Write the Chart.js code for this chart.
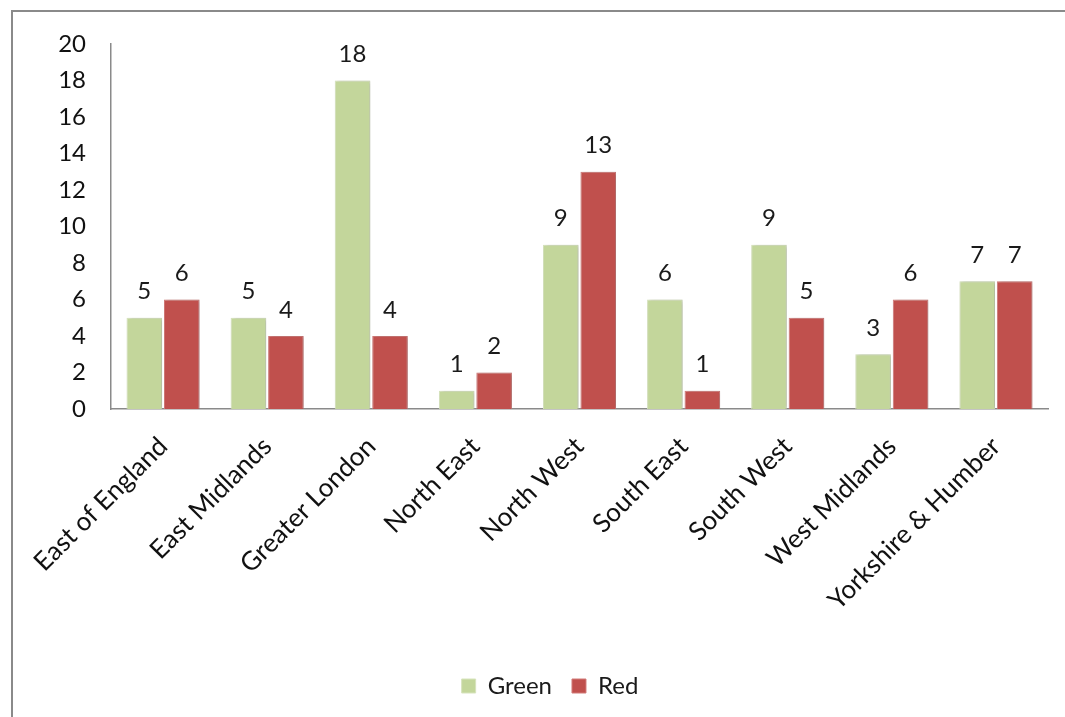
<!DOCTYPE html>
<html>
<head>
<meta charset="utf-8">
<script src="https://cdn.jsdelivr.net/npm/chart.js@4/dist/chart.umd.min.js"></script>
<style>
  html, body { margin: 0; padding: 0; background: #ffffff; }
  #wrap { width: 1065px; height: 717px; position: relative; }
</style>
</head>
<body>
<div id="wrap"><canvas id="chart" width="1065" height="717"></canvas></div>
<script>
// Regions and counts per series
const regions = ['East of England', 'East Midlands', 'Greater London', 'North East', 'North West',
                 'South East', 'South West', 'West Midlands', 'Yorkshire & Humber'];
const greenValues = [5, 5, 18, 1, 9, 6, 9, 3, 7];
const redValues = [6, 4, 4, 2, 13, 1, 5, 6, 7];
const seriesNames = ['Green', 'Red'];
const yTicks = [0, 2, 4, 6, 8, 10, 12, 14, 16, 18, 20];

const FONT = 'Lato, "Open Sans", sans-serif';

// Outer frame around the whole chart
const framePlugin = {
  id: 'frame',
  beforeDraw(chart) {
    const ctx = chart.ctx;
    ctx.save();
    ctx.fillStyle = '#ffffff';
    ctx.fillRect(0, 0, chart.width, chart.height);
    ctx.strokeStyle = '#8a8a8a';
    ctx.lineWidth = 2;
    ctx.strokeRect(12, 11, 1200, 900);
    ctx.restore();
  }
};

// Soft shadow behind the bars
const shadowPlugin = {
  id: 'barShadow',
  beforeDatasetDraw(chart) {
    const ctx = chart.ctx;
    ctx.save();
    ctx.shadowColor = 'rgba(0,0,0,0.22)';
    ctx.shadowBlur = 4;
    ctx.shadowOffsetX = 2;
    ctx.shadowOffsetY = 0;
  },
  afterDatasetDraw(chart) {
    chart.ctx.restore();
  }
};

// Value labels above each bar
const valueLabels = {
  id: 'valueLabels',
  afterDatasetsDraw(chart) {
    const ctx = chart.ctx;
    ctx.save();
    ctx.font = '24px ' + FONT;
    ctx.fillStyle = '#1a1a1a';
    ctx.textAlign = 'center';
    ctx.textBaseline = 'middle';
    chart.data.datasets.forEach((ds, di) => {
      const meta = chart.getDatasetMeta(di);
      meta.data.forEach((bar, i) => {
        ctx.fillText(String(ds.data[i]), bar.x, bar.y - 26);
      });
    });
    ctx.restore();
  }
};

new Chart(document.getElementById('chart'), {
  type: 'bar',
  data: {
    labels: regions,
    datasets: [
      {
        label: seriesNames[0],
        data: greenValues,
        backgroundColor: '#C3D69B',
        borderColor: '#D7E4BD',
        borderWidth: 1,
        categoryPercentage: 0.72,
        barPercentage: 0.95
      },
      {
        label: seriesNames[1],
        data: redValues,
        backgroundColor: '#C0504D',
        borderColor: '#D27B79',
        borderWidth: 1,
        categoryPercentage: 0.72,
        barPercentage: 0.95
      }
    ]
  },
  options: {
    responsive: false,
    animation: false,
    layout: { padding: { left: 52, right: 17, top: 44, bottom: 9 } },
    plugins: {
      legend: {
        position: 'bottom',
        labels: {
          font: { size: 24, family: FONT },
          color: '#1a1a1a',
          boxWidth: 14,
          boxHeight: 14,
          padding: 20
        }
      },
      tooltip: { enabled: false }
    },
    scales: {
      x: {
        grid: { display: false, drawTicks: false },
        border: { display: true, color: '#8a8a8a', width: 1.5 },
        ticks: {
          font: { size: 26, family: FONT },
          color: '#111111',
          minRotation: 45,
          maxRotation: 45,
          padding: 22,
          autoSkip: false
        },
        afterFit(scale) { scale.height = 245; }
      },
      y: {
        min: 0,
        max: 20,
        afterBuildTicks(scale) { scale.ticks = yTicks.map(v => ({ value: v })); },
        grid: { display: false, drawTicks: false },
        border: { display: true, color: '#8a8a8a', width: 1.5 },
        ticks: {
          font: { size: 24, family: FONT },
          color: '#111111',
          padding: 25
        },
        afterFit(scale) { scale.width = 59; }
      }
    }
  },
  plugins: [framePlugin, shadowPlugin, valueLabels]
});
</script>
</body>
</html>
